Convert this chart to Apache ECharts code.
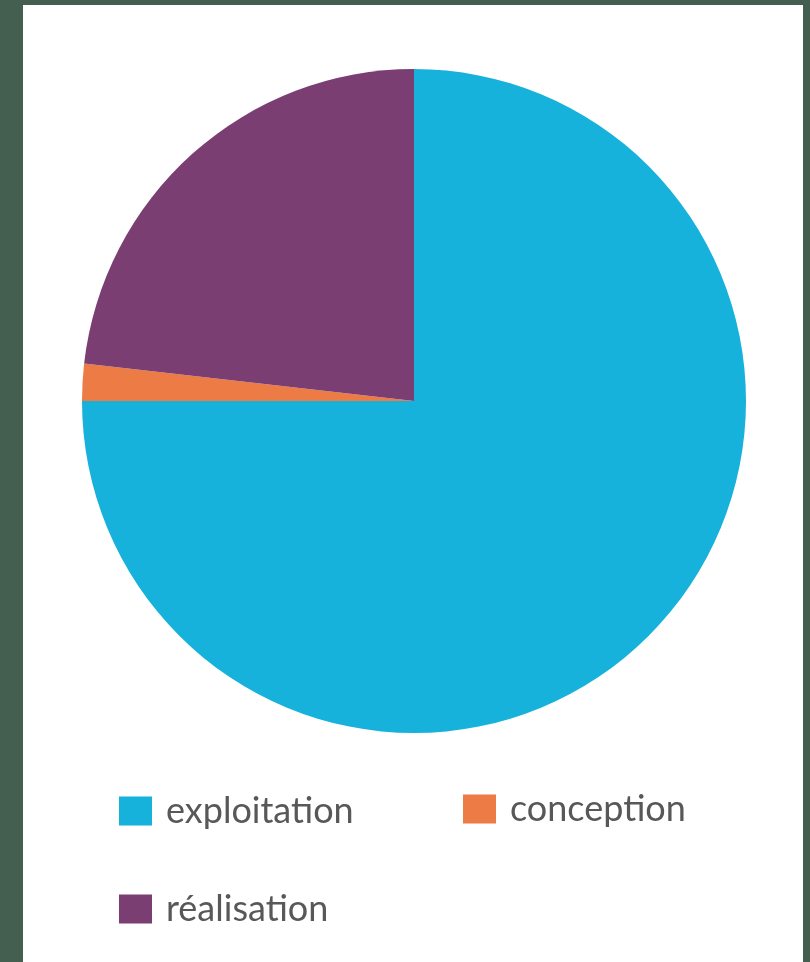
<!DOCTYPE html>
<html>
<head>
<meta charset="utf-8">
<script src="https://cdn.jsdelivr.net/npm/echarts@6/dist/echarts.min.js"></script>
<style>
html,body{margin:0;padding:0;background:#445e50;}
#c{width:810px;height:962px;}
</style>
</head>
<body>
<div id="c"></div>
<script>
const categories = ['exploitation', 'conception', 'réalisation'];
const values = [75, 1.8, 23.2];
const colors = ['#17b2db', '#ec7b45', '#7b3e72'];

const chart = echarts.init(document.getElementById('c'));
const legendPos = [
  {left: 119, top: 793},
  {left: 463, top: 791},
  {left: 119, top: 891}
];
const legends = categories.map((name, i) => ({
  data: [name],
  left: legendPos[i].left,
  top: legendPos[i].top,
  padding: 0,
  itemWidth: 33,
  itemHeight: 29,
  icon: 'rect',
  selectedMode: false,
  textStyle: {
    fontFamily: 'Lato',
    fontSize: 36,
    color: '#585858',
    padding: [8, 0, 0, 9]
  }
}));

chart.setOption({
  backgroundColor: '#445e50',
  animation: false,
  graphic: [{
    type: 'rect',
    shape: {x: 23, y: 5, width: 780, height: 962},
    style: {fill: '#ffffff'},
    z: -10
  }],
  color: colors,
  legend: legends,
  series: [{
    type: 'pie',
    center: [414, 401],
    radius: 332,
    startAngle: 90,
    clockwise: true,
    label: {show: false},
    labelLine: {show: false},
    emphasis: {disabled: true},
    itemStyle: {borderWidth: 0},
    data: categories.map((name, i) => ({name, value: values[i]}))
  }]
});
</script>
</body>
</html>
